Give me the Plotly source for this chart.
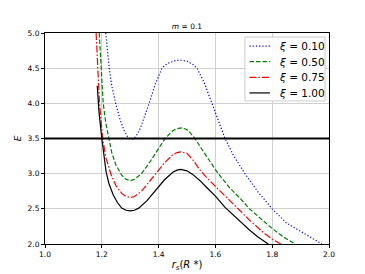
import plotly.graph_objects as go

# xi = 0.10 (blue dotted)
r_010 = [1.214, 1.22, 1.226, 1.235, 1.25, 1.265, 1.28, 1.29, 1.30, 1.31, 1.32, 1.335, 1.35, 1.365,
         1.388, 1.412, 1.43, 1.455, 1.477, 1.50, 1.52, 1.535, 1.56, 1.587, 1.61, 1.634, 1.665,
         1.704, 1.75, 1.80, 1.85, 1.90, 1.94, 1.975]
E_010 = [5.0, 4.74, 4.5, 4.25, 3.98, 3.76, 3.6, 3.53, 3.49, 3.49, 3.53, 3.64, 3.8, 3.98,
         4.27, 4.5, 4.565, 4.605, 4.615, 4.60, 4.555, 4.5, 4.3, 4.0, 3.74, 3.5, 3.25,
         3.0, 2.74, 2.5, 2.3, 2.18, 2.08, 2.0]

# xi = 0.50 (green dashed)
r_050 = [1.191, 1.197, 1.205, 1.214, 1.224, 1.235, 1.25, 1.27, 1.285, 1.30, 1.315, 1.34, 1.37,
         1.40, 1.423, 1.45, 1.465, 1.48, 1.495, 1.505, 1.528, 1.56, 1.61, 1.65, 1.687, 1.72,
         1.76, 1.80, 1.84, 1.88]
E_050 = [5.0, 4.5, 4.0, 3.72, 3.5, 3.3, 3.12, 2.98, 2.92, 2.90, 2.92, 3.0, 3.17,
         3.36, 3.5, 3.61, 3.64, 3.65, 3.635, 3.61, 3.5, 3.3, 3.0, 2.8, 2.65, 2.5,
         2.36, 2.22, 2.1, 2.0]

# xi = 0.75 (red dash-dot)
r_075 = [1.18, 1.185, 1.192, 1.203, 1.215, 1.234, 1.25, 1.27, 1.285, 1.30, 1.315, 1.34, 1.37,
         1.39, 1.42, 1.45, 1.465, 1.478, 1.50, 1.52, 1.546, 1.57, 1.60, 1.64, 1.675, 1.72,
         1.77, 1.80, 1.83]
E_075 = [5.0, 4.5, 4.0, 3.5, 3.22, 2.97, 2.83, 2.72, 2.675, 2.66, 2.675, 2.75, 2.9,
         3.0, 3.15, 3.27, 3.3, 3.31, 3.29, 3.2, 3.05, 2.94, 2.82, 2.655, 2.515, 2.34,
         2.16, 2.07, 2.0]

# xi = 1.00 (black solid)
r_100 = [1.184, 1.19, 1.20, 1.207, 1.215, 1.225, 1.24, 1.255, 1.27, 1.285, 1.30, 1.315, 1.33,
         1.36, 1.39, 1.42, 1.45, 1.465, 1.478, 1.50, 1.52, 1.546, 1.57, 1.60, 1.634, 1.66,
         1.687, 1.72, 1.75, 1.786]
E_100 = [4.25, 3.88, 3.5, 3.25, 3.03, 2.86, 2.7, 2.59, 2.51, 2.48, 2.47, 2.48, 2.51,
         2.62, 2.77, 2.91, 3.02, 3.05, 3.06, 3.04, 2.99, 2.9, 2.8, 2.68, 2.52, 2.42,
         2.32, 2.2, 2.1, 2.0]

E_line = 3.5
x_ticks = [1.0, 1.2, 1.4, 1.6, 1.8, 2.0]
y_ticks = [2.0, 2.5, 3.0, 3.5, 4.0, 4.5, 5.0]
legend_labels = ["<i>ξ</i> = 0.10", "<i>ξ</i> = 0.50", "<i>ξ</i> = 0.75", "<i>ξ</i> = 1.00"]

series = [
    (r_010, E_010, legend_labels[0], "blue", "1.2px,2px"),
    (r_050, E_050, legend_labels[1], "green", "4.5px,2px"),
    (r_075, E_075, legend_labels[2], "red", "7px,2px,1.5px,2px"),
    (r_100, E_100, legend_labels[3], "black", "solid"),
]

fig = go.Figure()
for xs, ys, name, color, dash in series:
    fig.add_trace(go.Scatter(x=xs, y=ys, mode="lines", name=name, showlegend=False,
                             line=dict(color=color, dash=dash, width=1.2)))

fig.add_trace(go.Scatter(x=[x_ticks[0], x_ticks[-1]], y=[E_line, E_line], mode="lines",
                         line=dict(color="black", width=2), showlegend=False))

# legend box (matplotlib-like, drawn in paper coordinates)
shapes = [dict(type="rect", xref="paper", yref="paper", x0=0.704, x1=0.986, y0=0.678, y1=0.981,
               line=dict(color="#cccccc", width=1), fillcolor="rgba(255,255,255,0.9)",
               layer="above")]
annotations = []
row_y = [0.938, 0.864, 0.790, 0.716]
for (xs, ys, name, color, dash), yy in zip(series, row_y):
    shapes.append(dict(type="line", xref="paper", yref="paper", x0=0.72, x1=0.792, y0=yy, y1=yy,
                       line=dict(color=color, dash=dash, width=1.2), layer="above"))
    annotations.append(dict(text=name, xref="paper", yref="paper", x=0.818, y=yy,
                            xanchor="left", yanchor="middle", showarrow=False,
                            font=dict(size=10.5, color="black")))

axis_common = dict(showline=True, linecolor="black", linewidth=1, mirror=True,
                   showgrid=True, gridcolor="#d0d0d0", gridwidth=1,
                   ticks="outside", ticklen=3, tickcolor="black", automargin=False,
                   tickfont=dict(size=7.5, color="black"), zeroline=False)

fig.update_layout(
    width=365, height=274,
    margin=dict(l=37, r=44, t=25, b=38),
    paper_bgcolor="white", plot_bgcolor="white",
    font=dict(family="DejaVu Sans", color="black"),
    showlegend=False,
    shapes=shapes, annotations=annotations,
    title=dict(text="<i>m</i> = 0.1", x=0.5, xref="paper", xanchor="center",
               y=1, yref="container", yanchor="top", pad=dict(t=16),
               font=dict(size=7.5)),
    xaxis=dict(range=[1.0, 2.0], tickvals=x_ticks, ticktext=[f"{v:.1f}" for v in x_ticks],
               title=dict(text="<i>r<sub>s</sub></i>(<i>R</i> *)", font=dict(size=10), standoff=2),
               **axis_common),
    yaxis=dict(range=[2.0, 5.0], tickvals=y_ticks, ticktext=[f"{v:.1f}" for v in y_ticks],
               title=dict(text="<i>E</i>", font=dict(size=9), standoff=4),
               **axis_common),
)

fig.write_html("out.html")
